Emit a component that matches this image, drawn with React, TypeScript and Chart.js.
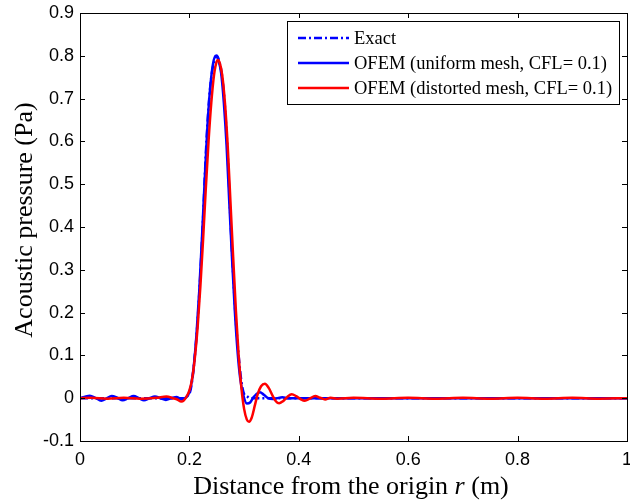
import React, { useEffect, useRef } from "react";
import { Chart, registerables } from "chart.js";

Chart.register(...registerables);

// ---- data ----
const exactX = [0, 0.19, 0.195, 0.2, 0.205, 0.21, 0.215, 0.22, 0.225, 0.23, 0.235, 0.24, 0.245, 0.25, 0.255, 0.26, 0.265, 0.27, 0.275, 0.28, 0.285, 0.29, 0.295, 0.3, 0.305, 0.31, 1];
const exactY = [0, 0, 0.005, 0.01, 0.04, 0.1, 0.18, 0.29, 0.42, 0.57, 0.68, 0.75, 0.785, 0.8, 0.785, 0.75, 0.68, 0.57, 0.42, 0.29, 0.18, 0.1, 0.04, 0.01, 0.005, 0, 0];

const uniformX = [0, 0.008, 0.018, 0.028, 0.039, 0.048, 0.058, 0.068, 0.078, 0.088, 0.098, 0.108, 0.117, 0.127, 0.137, 0.147, 0.157, 0.167, 0.177, 0.186, 0.193, 0.198, 0.203, 0.208, 0.213, 0.218, 0.223, 0.228, 0.233, 0.238, 0.243, 0.248, 0.25, 0.253, 0.258, 0.263, 0.268, 0.273, 0.278, 0.283, 0.288, 0.293, 0.298, 0.305, 0.311, 0.317, 0.322, 0.329, 0.336, 0.344, 0.352, 0.36, 0.37, 0.38, 0.4, 0.45, 0.5, 0.6, 0.7, 0.8, 0.9, 1];
const uniformY = [0, 0.003, 0.006, 0.001, -0.006, -0.001, 0.005, 0.001, -0.005, 0, 0.005, 0, -0.005, 0, 0.004, 0, -0.004, 0, 0.003, -0.003, 0.001, 0.008, 0.03, 0.075, 0.15, 0.25, 0.375, 0.51, 0.635, 0.725, 0.78, 0.8, 0.8, 0.79, 0.76, 0.69, 0.59, 0.455, 0.325, 0.205, 0.11, 0.045, 0.01, -0.0125, -0.01, 0.002, 0.009, 0.014, 0.008, 0.0, -0.002, 0.0, 0.002, 0, 0, 0, 0, 0, 0, 0, 0, 0];

const distortedX = [0, 0.02, 0.05, 0.08, 0.11, 0.14, 0.158, 0.17, 0.178, 0.185, 0.19, 0.195, 0.2, 0.205, 0.21, 0.215, 0.22, 0.225, 0.23, 0.235, 0.24, 0.245, 0.25, 0.2525, 0.255, 0.26, 0.265, 0.27, 0.275, 0.28, 0.285, 0.29, 0.295, 0.3, 0.305, 0.309, 0.314, 0.32, 0.325, 0.331, 0.338, 0.345, 0.352, 0.358, 0.364, 0.371, 0.379, 0.387, 0.395, 0.403, 0.411, 0.42, 0.43, 0.439, 0.448, 0.458, 0.47, 0.5, 0.55, 0.6, 0.65, 0.7, 0.75, 0.8, 0.85, 0.9, 0.95, 1];
const distortedY = [0, 0.001, -0.001, 0.001, -0.001, 0.001, 0.004, 0.0, -0.003, -0.008, -0.005, 0.004, 0.018, 0.045, 0.095, 0.165, 0.26, 0.37, 0.49, 0.6, 0.69, 0.755, 0.787, 0.79, 0.785, 0.755, 0.69, 0.59, 0.46, 0.33, 0.205, 0.1, 0.025, -0.025, -0.05, -0.055, -0.045, -0.015, 0.01, 0.028, 0.034, 0.024, 0.006, -0.007, -0.012, -0.007, 0.003, 0.009, 0.005, -0.002, -0.006, -0.001, 0.005, 0.001, -0.003, 0.001, -0.001, 0.001, -0.001, 0.001, -0.001, 0.001, -0.001, 0.001, -0.001, 0.001, -0.001, 0];

const xTicks = [0, 0.2, 0.4, 0.6, 0.8, 1];
const yTicks = [-0.1, 0, 0.1, 0.2, 0.3, 0.4, 0.5, 0.6, 0.7, 0.8, 0.9];
const legendLabels = ["Exact", "OFEM (uniform mesh, CFL= 0.1)", "OFEM (distorted mesh, CFL= 0.1)"];

const BLUE = "#0000ff";
const RED = "#ff0000";

const toPts = (xs: number[], ys: number[]) => xs.map((x, i) => ({ x, y: ys[i] }));

const framePlugin = {
  id: "matlabFrame",
  afterDraw(chart: any) {
    const ctx = chart.ctx as CanvasRenderingContext2D;
    const { left, right, top, bottom } = chart.chartArea;
    const xs = chart.scales.x;
    const ys = chart.scales.y;
    ctx.save();
    ctx.strokeStyle = "#000";
    ctx.lineWidth = 1;
    // ticks (inward)
    ctx.beginPath();
    xTicks.forEach((v) => {
      const px = Math.round(xs.getPixelForValue(v)) + 0.5;
      ctx.moveTo(px, bottom);
      ctx.lineTo(px, bottom - 5);
      ctx.moveTo(px, top);
      ctx.lineTo(px, top + 5);
    });
    yTicks.forEach((v) => {
      const py = Math.round(ys.getPixelForValue(v)) + 0.5;
      ctx.moveTo(left, py);
      ctx.lineTo(left + 5, py);
      ctx.moveTo(right, py);
      ctx.lineTo(right - 5, py);
    });
    ctx.stroke();
    // box
    ctx.strokeRect(Math.round(left) + 0.5, Math.round(top) + 0.5, Math.round(right - left), Math.round(bottom - top));

    // legend
    const lx = 287.5, ly = 21.5, lw = 332, lh = 83;
    ctx.fillStyle = "#fff";
    ctx.fillRect(lx, ly, lw, lh);
    ctx.strokeRect(lx, ly, lw, lh);
    const rows = [38, 63, 88];
    const styles = [
      { color: BLUE, dash: [8, 3, 2, 3] },
      { color: BLUE, dash: [] as number[] },
      { color: RED, dash: [] as number[] },
    ];
    ctx.font = "18.5px 'Liberation Serif', 'Times New Roman', serif";
    ctx.textBaseline = "middle";
    ctx.textAlign = "left";
    rows.forEach((ry, i) => {
      ctx.beginPath();
      ctx.setLineDash(styles[i].dash);
      ctx.strokeStyle = styles[i].color;
      ctx.lineWidth = 2.5;
      ctx.moveTo(298, ry);
      ctx.lineTo(349, ry);
      ctx.stroke();
      ctx.setLineDash([]);
      ctx.fillStyle = "#000";
      ctx.fillText(legendLabels[i], 354, ry + 1);
    });

    // x title with italic r
    ctx.fillStyle = "#000";
    ctx.textBaseline = "alphabetic";
    const fN = "26px 'Liberation Serif', 'Times New Roman', serif";
    const fI = "italic 26px 'Liberation Serif', 'Times New Roman', serif";
    const p1 = "Distance from the origin ";
    const p2 = "r";
    const p3 = " (m)";
    ctx.font = fN;
    const w1 = ctx.measureText(p1).width;
    const w3 = ctx.measureText(p3).width;
    ctx.font = fI;
    const w2 = ctx.measureText(p2).width;
    const total = w1 + w2 + w3;
    let cx = 351 - total / 2;
    const by = 494;
    ctx.font = fN;
    ctx.fillText(p1, cx, by);
    cx += w1;
    ctx.font = fI;
    ctx.fillText(p2, cx, by);
    cx += w2;
    ctx.font = fN;
    ctx.fillText(p3, cx, by);

    // y title
    ctx.save();
    ctx.translate(32, 220);
    ctx.rotate(-Math.PI / 2);
    ctx.font = fN;
    ctx.textAlign = "center";
    ctx.fillText("Acoustic pressure (Pa)", 0, 0);
    ctx.restore();

    ctx.restore();
  },
};

export default function App() {
  const ref = useRef<HTMLCanvasElement | null>(null);
  useEffect(() => {
    if (!ref.current) return;
    const chart = new Chart(ref.current, {
      type: "line",
      data: {
        datasets: [
          {
            label: legendLabels[0],
            data: toPts(exactX, exactY),
            borderColor: BLUE,
            borderWidth: 2.5,
            borderDash: [8, 3, 2, 3],
            pointRadius: 0,
            cubicInterpolationMode: "monotone",
            order: 2,
          },
          {
            label: legendLabels[1],
            data: toPts(uniformX, uniformY),
            borderColor: BLUE,
            borderWidth: 2.5,
            pointRadius: 0,
            cubicInterpolationMode: "monotone",
            order: 1,
          },
          {
            label: legendLabels[2],
            data: toPts(distortedX, distortedY),
            borderColor: RED,
            borderWidth: 2.5,
            pointRadius: 0,
            cubicInterpolationMode: "monotone",
            order: 0,
          },
        ],
      },
      options: {
        animation: false,
        responsive: false,
        devicePixelRatio: 1,
        layout: { padding: { left: 0, right: 3, top: 13, bottom: 0 } },
        plugins: { legend: { display: false }, tooltip: { enabled: false } },
        scales: {
          x: {
            type: "linear",
            min: 0,
            max: 1,
            afterFit: (s: any) => { s.height = 61; s.paddingLeft = 0; s.paddingRight = 0; },
            afterBuildTicks: (s: any) => { s.ticks = xTicks.map((v) => ({ value: v })); },
            grid: { display: false, drawTicks: false },
            border: { display: false },
            ticks: {
              padding: 8,
              color: "#000",
              font: { family: "'Liberation Sans', Arial, sans-serif", size: 18 },
              callback: (v: any) => String(Math.round(Number(v) * 10) / 10),
            },
          },
          y: {
            type: "linear",
            min: -0.1,
            max: 0.9,
            afterFit: (s: any) => { s.width = 80; s.paddingTop = 0; s.paddingBottom = 0; },
            afterBuildTicks: (s: any) => { s.ticks = yTicks.map((v) => ({ value: v })); },
            grid: { display: false, drawTicks: false },
            border: { display: false },
            ticks: {
              padding: 6,
              color: "#000",
              font: { family: "'Liberation Sans', Arial, sans-serif", size: 18 },
              callback: (v: any) => String(Math.round(Number(v) * 10) / 10),
            },
          },
        },
      },
      plugins: [framePlugin],
    });
    return () => chart.destroy();
  }, []);
  return (
    <div style={{ position: "absolute", left: 0, top: 0, width: 630, height: 502, background: "#fff" }}>
      <canvas ref={ref} width={630} height={502} style={{ width: 630, height: 502, display: "block" }} />
    </div>
  );
}
